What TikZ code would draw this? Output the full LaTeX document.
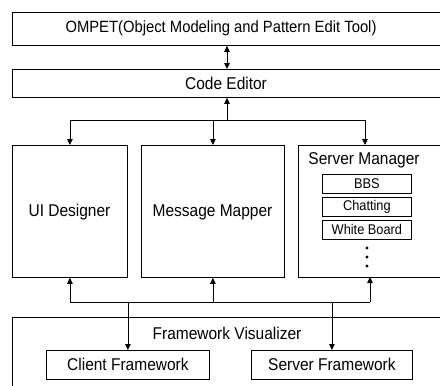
\documentclass[tikz,border=0pt]{standalone}
\usepackage{fontspec}
\setmainfont{Liberation Sans}
\usetikzlibrary{arrows.meta}
\begin{document}
\begin{tikzpicture}[x=1pt,y=-1pt,line width=0.8pt,
  box/.style={draw,inner sep=0pt,anchor=north west},
  lbl/.style={inner sep=0pt,font=\fontsize{15.5}{18}\selectfont,yscale=1.1},
  small/.style={inner sep=0pt,font=\fontsize{12.8}{15}\selectfont,yscale=1.1},
  arr/.style={-{Triangle[length=6pt,width=5.5pt]}},
  darr/.style={{Triangle[length=6pt,width=5.5pt]}-{Triangle[length=6pt,width=5.5pt]}}]
\useasboundingbox (0,0) rectangle (440,386);
\clip (0,0) rectangle (440,386);
% boxes
\node[box,minimum width=438pt,minimum height=33pt] (ompet) at (12,12) {};
\node[lbl,font=\fontsize{14.8}{18}\selectfont] (ompetTxt) at (221,28) {OMPET(Object Modeling and Pattern Edit Tool)};
\node[box,minimum width=438pt,minimum height=28pt] (ce) at (12,69) {};
\node[lbl] (ceTxt) at (226,83) {Code Editor};
\node[box,minimum width=115pt,minimum height=132pt] (ui) at (12,145) {};
\node[lbl] (uiTxt) at (69.5,212) {UI Designer};
\node[box,minimum width=143pt,minimum height=132pt] (mm) at (141,145) {};
\node[lbl] (mmTxt) at (212.5,212) {Message Mapper};
\node[box,minimum width=152pt,minimum height=132pt] (sm) at (298,145) {};
\node[lbl] (smTxt) at (364,160) {Server Manager};
\node[box,minimum width=89pt,minimum height=19pt] (bbs) at (322,174) {};
\node[small] at (bbs.center) {BBS};
\node[box,minimum width=89pt,minimum height=19pt] (chat) at (322,197) {};
\node[small] at (chat.center) {Chatting};
\node[box,minimum width=89pt,minimum height=19pt] (wb) at (322,220) {};
\node[small] at (wb.center) {White Board};
\fill (367,248) circle (1.6pt) (367,257) circle (1.6pt) (367,266) circle (1.6pt);
\node[box,minimum width=438pt,minimum height=100pt] (fv) at (12,317) {};
\node[lbl] (fvTxt) at (227,333) {Framework Visualizer};
\node[box,minimum width=163pt,minimum height=29pt] (cf) at (46,350) {};
\node[lbl] at (cf.center) {Client Framework};
\node[box,minimum width=161pt,minimum height=29pt] (sf) at (251,350) {};
\node[lbl] at (sf.center) {Server Framework};
% connectors
\coordinate (axis) at (227,0);
\draw[darr] (ompet.south -| axis) -- (ce.north -| axis);
\coordinate (hub) at (227,120);
\draw[arr] (hub) -- (ce.south -| hub);
\coordinate (smIn) at (365,145);
\draw[arr] (hub) -| (ui.north);
\draw[arr] (mm.north |- hub) -- (mm.north);
\draw[arr] (hub) -| (smIn);
\coordinate (bus) at (0,302);
\coordinate (smOut) at (370,277);
\draw (ui.south |- bus) -- (smOut |- bus);
\draw[arr] (ui.south |- bus) -- (ui.south);
\draw[arr] (mm.south |- bus) -- (mm.south);
\draw[arr] (smOut |- bus) -- (smOut);
\draw[arr] (cf.north |- bus) -- (cf.north);
\draw[arr] (sf.north |- bus) -- (sf.north);
\end{tikzpicture}
\end{document}
